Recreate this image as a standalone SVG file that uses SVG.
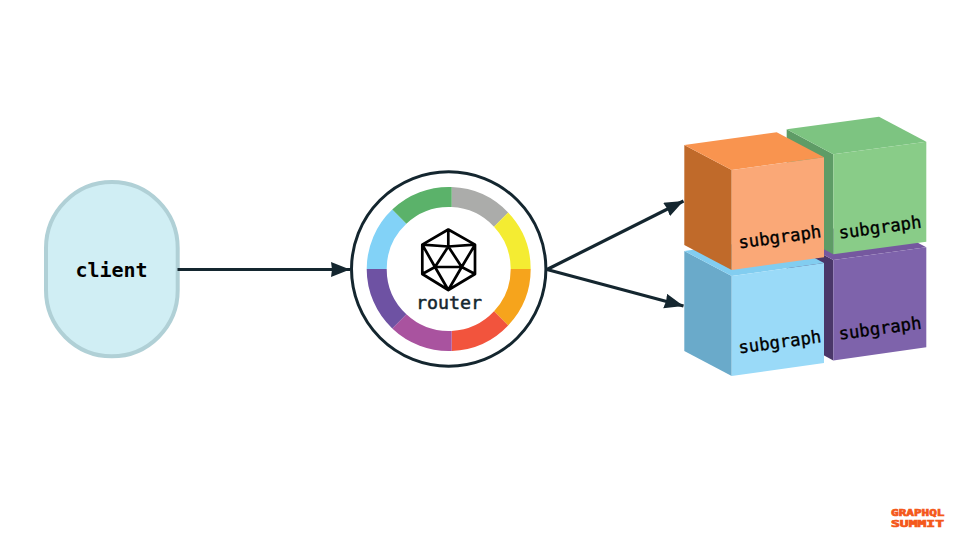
<svg xmlns="http://www.w3.org/2000/svg" width="960" height="537" viewBox="0 0 960 537">
<style>
.mono{font-family:"DejaVu Sans Mono","Liberation Mono",monospace;fill:#000}
.sg{font-size:17.300px;stroke:#000;stroke-width:.35px}
.edge{stroke:#14262f;stroke-width:3.200;fill:none}
.logo{font-family:"DejaVu Sans Mono","Liberation Mono",monospace;font-weight:700;font-size:9.500px;fill:#f4581a;stroke:#f4581a;stroke-width:.7px}
</style>
<defs>
<marker id="arrow" markerUnits="userSpaceOnUse" markerWidth="20" markerHeight="16" refX="19" refY="7.500" orient="auto"><path d="M0 0L19 7.500L0 15L1 7.500Z" fill="#14262f"/></marker>
</defs>
<rect width="960" height="537" fill="#fff"/>
<g id="client">
<rect x="46" y="182" width="131.700" height="174.300" rx="65.800" ry="66" fill="#d0eef4" stroke="#b0d0d6" stroke-width="4"/>
<text class="mono" x="111.500" y="277" font-size="20" font-weight="700" text-anchor="middle">client</text>
</g>
<g id="router">
<circle cx="448.700" cy="269" r="97.200" fill="#fff" stroke="#14262f" stroke-width="3"/>
<path fill="#abacaa" d="M451.700 187.050A82 82 0 0 1 508.160 212.540L494.010 226.690A62 62 0 0 0 451.700 207.070Z"/>
<path fill="#f4ec32" d="M508.160 212.540A82 82 0 0 1 530.700 269H510.700A62 62 0 0 0 494.010 226.690Z"/>
<path fill="#f6a41c" d="M530.700 269A82 82 0 0 1 508.160 325.460L494.010 311.310A62 62 0 0 0 510.700 269Z"/>
<path fill="#f2543d" d="M508.160 325.460A82 82 0 0 1 451.700 350.950V330.930A62 62 0 0 0 494.010 311.310Z"/>
<path fill="#a9539f" d="M451.700 350.950A82 82 0 0 1 392.240 328.460L406.390 314.310A62 62 0 0 0 451.700 330.930Z"/>
<path fill="#6e52a3" d="M392.240 328.460A82 82 0 0 1 366.700 269H386.700A62 62 0 0 0 406.390 314.310Z"/>
<path fill="#82d2f7" d="M366.700 269A82 82 0 0 1 392.240 209.540L406.390 223.690A62 62 0 0 0 386.700 269Z"/>
<path fill="#5bb26a" d="M392.240 209.540A82 82 0 0 1 451.700 187.050V207.070A62 62 0 0 0 406.390 223.690Z"/>
<path fill="none" stroke="#000" stroke-width="2.700" stroke-linejoin="round" d="M448.300 229.500L475 244.700V274L448.300 290L422.300 274V244.700ZM448.300 229.500V246.500M422.300 244.700L448.300 246.500L475 244.700M448.300 246.500L435 267H461.700ZM422.300 244.700L435 267L422.300 274M475 244.700L461.700 267L475 274M435 267L448.300 290L461.700 267"/>
<text class="mono" x="449" y="309" font-size="18.300" text-anchor="middle" stroke="#14262f" stroke-width=".5" style="fill:#14262f">router</text>
</g>
<g id="subgraph-purple">
<path fill="#4a3769" d="M786.700 235L833.300 260V360.500L786.700 335Z"/>
<path fill="#75589f" d="M786.700 235L879 222.300L926.300 247.300L833.300 260Z"/>
<path fill="#7e63ab" d="M833.300 260L926.300 247.300V347.300L833.300 360.500Z"/>
<text class="mono sg" transform="translate(839.500 339.800) rotate(-7.800)">subgraph</text>
</g>
<g id="subgraph-green">
<path fill="#5e9c66" d="M786.700 129.300L833.300 154.300V254.300L786.700 229.300Z"/>
<path fill="#7dc481" d="M786.700 129.300L879 116.700L926.300 141.700L833.300 154.300Z"/>
<path fill="#89cc88" d="M833.300 154.300L926.300 141.700V241.700L833.300 254.300Z"/>
<text class="mono sg" transform="translate(839.500 238.800) rotate(-7.800)">subgraph</text>
</g>
<g id="subgraph-blue">
<path fill="#6aaaca" d="M684.300 251L731.700 276V376L684.300 351Z"/>
<path fill="#82cdf0" d="M684.300 251L776.700 238L824 263L731.700 276Z"/>
<path fill="#9adaf8" d="M731.700 276L824 263V363L731.700 376Z"/>
<text class="mono sg" transform="translate(739.300 353.500) rotate(-7.800)">subgraph</text>
</g>
<g id="subgraph-orange">
<path fill="#c06a2a" d="M684.300 145L731.700 170V270L684.300 245Z"/>
<path fill="#f9944f" d="M684.300 145L776.700 132.300L824 157.300L731.700 170Z"/>
<path fill="#faa877" d="M731.700 170L824 157.300V257.300L731.700 270Z"/>
<text class="mono sg" transform="translate(739.300 248.500) rotate(-7.800)">subgraph</text>
</g>
<g id="connectors">
<path class="edge" marker-end="url(#arrow)" d="M177.500 269.500H350"/>
<path class="edge" marker-end="url(#arrow)" d="M547 269.500L683.500 201"/>
<path class="edge" marker-end="url(#arrow)" d="M547 269.500L683.500 306"/>
</g>
<g id="logo">
<text class="logo" x="891" y="515.500" textLength="53.500" lengthAdjust="spacingAndGlyphs">GRAPHQL</text>
<text class="logo" x="891" y="526.500" textLength="53" lengthAdjust="spacingAndGlyphs">SUMMIT</text>
</g>
</svg>
